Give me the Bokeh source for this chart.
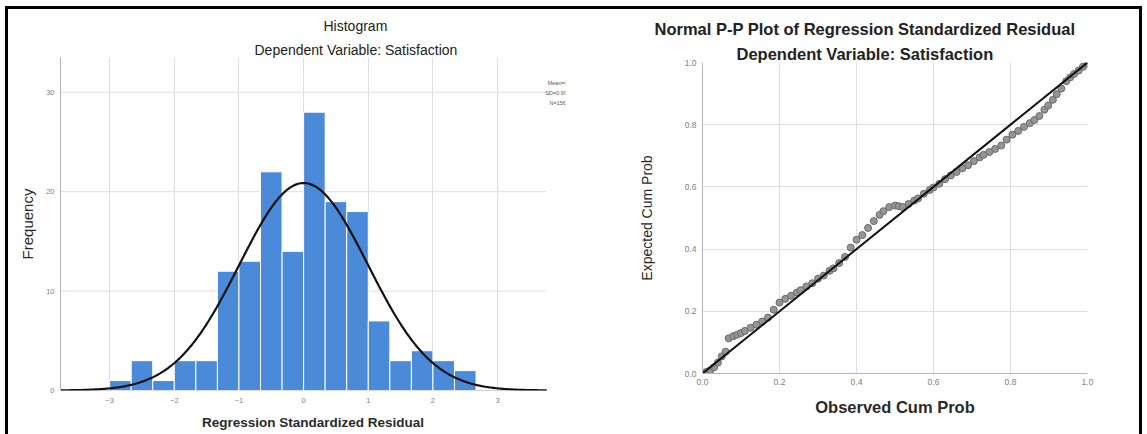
import numpy as np
from bokeh.plotting import figure
from bokeh.layouts import row, column
from bokeh.models import FixedTicker, Label, Range1d, Title, Spacer, PrintfTickFormatter
from bokeh.embed import file_html
from bokeh.resources import INLINE

# ---------------- data: histogram ----------------
bin_start = -3.0
bin_width = 1.0 / 3.0
hist_counts = [1, 3, 1, 3, 3, 12, 13, 22, 14, 28, 19, 18, 7, 3, 4, 3, 2]
resid_mean = 0.0
resid_std = 0.994
n_obs = 156
hist_xticks = [-3, -2, -1, 0, 1, 2, 3]
hist_yticks = [0, 10, 20, 30]
legend_lines = ["Mean=0", "SD=0.994", "N=156"]
hist_title = "Histogram"
subtitle = "Dependent Variable: Satisfaction"

# ---------------- data: P-P plot ----------------
obs_cum = [0.01, 0.02, 0.03, 0.04, 0.05, 0.06, 0.068, 0.08, 0.09, 0.10, 0.11, 0.125,
           0.14, 0.155, 0.17, 0.185, 0.20, 0.215, 0.23, 0.245, 0.255, 0.27, 0.285, 0.30,
           0.315, 0.33, 0.34, 0.355, 0.37, 0.385, 0.40, 0.415, 0.43, 0.445, 0.46, 0.47,
           0.485, 0.50, 0.51, 0.52, 0.535, 0.55, 0.56, 0.575, 0.59, 0.60, 0.615, 0.63,
           0.645, 0.66, 0.675, 0.69, 0.705, 0.72, 0.73, 0.745, 0.76, 0.776, 0.79, 0.805,
           0.82, 0.835, 0.85, 0.862, 0.875, 0.888, 0.898, 0.91, 0.92, 0.932, 0.945, 0.955,
           0.965, 0.977, 0.988, 1.0]
exp_cum = [0.005, 0.01, 0.02, 0.035, 0.055, 0.07, 0.113, 0.12, 0.125, 0.13, 0.137, 0.147,
           0.157, 0.167, 0.18, 0.205, 0.228, 0.24, 0.25, 0.26, 0.268, 0.28, 0.29, 0.305,
           0.315, 0.33, 0.338, 0.355, 0.375, 0.405, 0.43, 0.445, 0.468, 0.49, 0.51, 0.522,
           0.535, 0.54, 0.538, 0.535, 0.545, 0.556, 0.563, 0.578, 0.59, 0.598, 0.61, 0.625,
           0.637, 0.648, 0.66, 0.67, 0.683, 0.695, 0.703, 0.712, 0.722, 0.733, 0.752, 0.768,
           0.78, 0.793, 0.805, 0.815, 0.828, 0.848, 0.862, 0.88, 0.898, 0.916, 0.94, 0.952,
           0.963, 0.974, 0.986, 0.997]
pp_ticks = [0.0, 0.2, 0.4, 0.6, 0.8, 1.0]
pp_title = "Normal P-P Plot of Regression Standardized Residual"

FONT = "Liberation Sans"
GRID = "#dedede"
TICKC = "#808080"
AXISC = "#b4b4b4"


def style_axes(p, tick_size):
    p.outline_line_color = None
    for ax in (p.xaxis, p.yaxis):
        ax.axis_line_color = AXISC
        ax.major_tick_line_color = None
        ax.minor_tick_line_color = None
        ax.major_tick_out = 0
        ax.major_tick_in = 0
        ax.minor_tick_out = 0
        ax.minor_tick_in = 0
        ax.major_label_text_font = FONT
        ax.major_label_text_font_size = tick_size
        ax.major_label_text_color = TICKC
        ax.axis_label_text_font = FONT
        ax.axis_label_text_color = "#2a2a2a"
    p.xgrid.grid_line_color = GRID
    p.ygrid.grid_line_color = GRID
    p.background_fill_color = "white"
    p.border_fill_color = "white"


# ---------------- histogram figure ----------------
H1 = 425
X_MIN, X_MAX = -3.76, 3.76
p1 = figure(width=568, height=H1, output_backend="svg", toolbar_location=None,
            x_range=Range1d(X_MIN, 4.05), y_range=Range1d(0, 33.5),
            min_border_left=52, min_border_right=11,
            min_border_top=48, min_border_bottom=44)
style_axes(p1, "7.5px")
p1.xaxis.ticker = FixedTicker(ticks=hist_xticks)
p1.yaxis.ticker = FixedTicker(ticks=hist_yticks)
p1.ygrid.grid_line_color = None
p1.xaxis.axis_line_color = None
p1.xaxis.major_label_standoff = 7
p1.yaxis.major_label_standoff = 6
p1.xaxis.axis_label = "Regression Standardized Residual"
p1.xaxis.axis_label_text_font_size = "13.5px"
p1.xaxis.axis_label_text_font_style = "bold"
p1.xaxis.axis_label_standoff = 9
p1.yaxis.axis_label = "Frequency"
p1.yaxis.axis_label_text_font_size = "15px"
p1.yaxis.axis_label_text_font_style = "normal"
p1.yaxis.axis_label_standoff = 7

# horizontal grid lines and base line, limited to the curve's extent
p1.segment(x0=[X_MIN] * len(hist_yticks), x1=[X_MAX] * len(hist_yticks),
           y0=hist_yticks, y1=hist_yticks, line_color=GRID, line_width=1)
p1.segment(x0=[X_MIN], x1=[X_MAX], y0=[0], y1=[0], line_color=AXISC, line_width=1)

lefts = [bin_start + i * bin_width for i in range(len(hist_counts))]
rights = [l + bin_width for l in lefts]
p1.quad(left=lefts, right=rights, bottom=0, top=hist_counts,
        fill_color="#4a8ad9", line_color="white", line_width=1)

xs = np.linspace(X_MIN, X_MAX, 400)
ys = n_obs * bin_width * np.exp(-0.5 * ((xs - resid_mean) / resid_std) ** 2) / (resid_std * np.sqrt(2 * np.pi))
p1.line(xs, ys, line_color="#111111", line_width=2.2)

for i, t in enumerate(legend_lines):
    p1.add_layout(Label(x=3.93, y=30.9 - i * 1.0, text=t, text_align="center", text_baseline="middle",
                        text_font=FONT, text_font_size="5.5px", text_color="#555555"))

# titles: subtitle first (nearest the frame), then main title
p1.add_layout(Title(text=subtitle, align="left", offset=194, standoff=0,
                    text_font=FONT, text_font_size="14px", text_font_style="normal",
                    text_color="#222222"), "above")
p1.add_layout(Title(text=hist_title, align="left", offset=263, standoff=12,
                    text_font=FONT, text_font_size="14px", text_font_style="normal",
                    text_color="#222222"), "above")

# ---------------- P-P figure ----------------
H2 = 411
p2 = figure(width=563, height=H2, output_backend="svg", toolbar_location=None,
            x_range=Range1d(0, 1), y_range=Range1d(0, 1),
            min_border_left=126, min_border_right=52,
            min_border_top=53, min_border_bottom=47)
style_axes(p2, "8.5px")
p2.xaxis.ticker = FixedTicker(ticks=pp_ticks)
p2.yaxis.ticker = FixedTicker(ticks=pp_ticks)
p2.xaxis.formatter = PrintfTickFormatter(format="%.1f")
p2.yaxis.formatter = PrintfTickFormatter(format="%.1f")
p2.xaxis.major_label_standoff = 5
p2.yaxis.major_label_standoff = 6
p2.xaxis.axis_label = "Observed Cum Prob"
p2.xaxis.axis_label_text_font_size = "16.5px"
p2.xaxis.axis_label_text_font_style = "bold"
p2.xaxis.axis_label_standoff = 10
p2.yaxis.axis_label = "Expected Cum Prob"
p2.yaxis.axis_label_text_font_size = "14px"
p2.yaxis.axis_label_text_font_style = "normal"
p2.yaxis.axis_label_standoff = 27

p2.scatter(obs_cum, exp_cum, size=7, fill_color="#959595", line_color="#6a6a6a", line_width=1)
p2.line([0, 1], [0, 1], line_color="#111111", line_width=2)

p2.add_layout(Title(text=subtitle, align="left", offset=34, standoff=0,
                    text_font=FONT, text_font_size="16.5px", text_font_style="bold",
                    text_color="#222222"), "above")
p2.add_layout(Title(text=pp_title, align="left", offset=-48, standoff=9,
                    text_font=FONT, text_font_size="16.5px", text_font_style="bold",
                    text_color="#222222"), "above")

# black frame (left, top, right) around the two charts
BLACK = {"background-color": "black"}
top_pad = Spacer(width=1142, height=6, margin=0)
top_bar = row(Spacer(width=5, height=3, margin=0),
              Spacer(width=1137, height=3, margin=0, styles=BLACK), spacing=0)
main = row(Spacer(width=5, height=H1, margin=0),
           Spacer(width=3, height=H1, margin=0, styles=BLACK),
           p1,
           column(p2, spacing=0),
           Spacer(width=3, height=H1, margin=0, styles=BLACK),
           spacing=0)
layout = column(top_pad, top_bar, main, spacing=0)

open("out.html", "w").write(file_html(layout, INLINE))
